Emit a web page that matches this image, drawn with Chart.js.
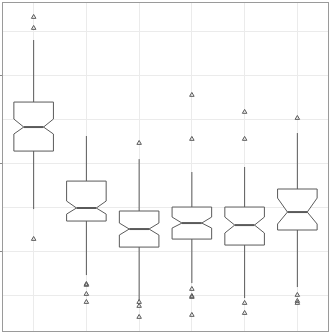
<!DOCTYPE html>
<html>
<head>
<meta charset="utf-8">
<script src="https://cdn.jsdelivr.net/npm/chart.js@4/dist/chart.umd.min.js"></script>
<style>
    body { margin: 0; background: #ffffff; }
    #wrap { width: 331px; height: 333px; }
</style>
</head>
<body>
<div id="wrap"><canvas id="grafico" width="331" height="333"></canvas></div>
<script>
// posições das categorias (sem rótulos visíveis)
const categories = [1, 2, 3, 4, 5, 6];

// estatísticas de cada caixa
const whiskerLow  = [14.77, 7.27, 4.43, 6.36, 4.66, 5.91];
const q1          = [21.36, 13.41, 10.45, 11.36, 10.68, 12.39];
const median      = [24.09, 14.89, 12.50, 13.18, 12.95, 14.43];
const q3          = [26.93, 17.95, 14.55, 15.00, 15.00, 17.05];
const whiskerHigh = [33.98, 23.07, 20.45, 18.98, 19.55, 23.41];
const notchLow    = [23.30, 14.20, 11.82, 12.61, 12.05, 13.07];
const notchHigh   = [25.00, 15.68, 13.18, 13.86, 13.86, 16.02];

// pontos fora
const outliers = [
    [36.59, 35.34, 11.36],
    [6.25, 6.14, 5.11, 4.20],
    [22.27, 4.20, 3.75, 2.50],
    [27.73, 22.73, 5.68, 4.89, 4.77, 2.73],
    [25.80, 22.73, 4.09, 2.95],
    [25.11, 5.00, 4.32, 4.09]
];

const yTicks = [5, 10, 15, 20, 25, 30, 35];
const yMajor = [10, 20, 30];

const larguraCaixa = 0.75;
const corLinha = '#5a5a5a';

const pontosFora = [];
outliers.forEach((lista, i) => {
    lista.forEach(v => pontosFora.push({ x: categories[i], y: v }));
});

// desenha as caixas com entalhe
const caixasPlugin = {
    id: 'caixas',
    beforeDatasetsDraw(chart) {
        const ctx = chart.ctx;
        const x = chart.scales.x;
        const y = chart.scales.y;
        ctx.save();
        ctx.strokeStyle = corLinha;
        categories.forEach((c, i) => {
            const cx = x.getPixelForValue(c);
            const esq = x.getPixelForValue(c - larguraCaixa / 2);
            const dir = x.getPixelForValue(c + larguraCaixa / 2);
            const esqN = x.getPixelForValue(c - larguraCaixa / 4);
            const dirN = x.getPixelForValue(c + larguraCaixa / 4);
            const yQ1 = y.getPixelForValue(q1[i]);
            const yQ3 = y.getPixelForValue(q3[i]);
            const yMed = y.getPixelForValue(median[i]);
            const yNL = y.getPixelForValue(notchLow[i]);
            const yNH = y.getPixelForValue(notchHigh[i]);

            // bigodes
            ctx.lineWidth = 1;
            ctx.beginPath();
            ctx.moveTo(cx, y.getPixelForValue(whiskerHigh[i]));
            ctx.lineTo(cx, yQ3);
            ctx.moveTo(cx, yQ1);
            ctx.lineTo(cx, y.getPixelForValue(whiskerLow[i]));
            ctx.stroke();

            // caixa
            ctx.beginPath();
            ctx.moveTo(esq, yQ3);
            ctx.lineTo(dir, yQ3);
            ctx.lineTo(dir, yNH);
            ctx.lineTo(dirN, yMed);
            ctx.lineTo(dir, yNL);
            ctx.lineTo(dir, yQ1);
            ctx.lineTo(esq, yQ1);
            ctx.lineTo(esq, yNL);
            ctx.lineTo(esqN, yMed);
            ctx.lineTo(esq, yNH);
            ctx.closePath();
            ctx.fillStyle = '#ffffff';
            ctx.fill();
            ctx.stroke();

            // mediana
            ctx.lineWidth = 2;
            ctx.beginPath();
            ctx.moveTo(esqN, yMed);
            ctx.lineTo(dirN, yMed);
            ctx.stroke();
        });
        ctx.restore();
    },
    afterDraw(chart) {
        const a = chart.chartArea;
        const ctx = chart.ctx;
        ctx.save();
        ctx.strokeStyle = '#9a9a9a';
        ctx.lineWidth = 1;
        ctx.strokeRect(a.left + 0.5, a.top + 0.5, a.right - a.left - 1, a.bottom - a.top - 1);
        ctx.restore();
    }
};

new Chart(document.getElementById('grafico'), {
    type: 'scatter',
    data: {
        datasets: [{
            data: pontosFora,
            pointStyle: 'triangle',
            radius: 2.6,
            borderWidth: 1,
            borderColor: corLinha,
            backgroundColor: 'rgba(0,0,0,0)'
        }]
    },
    options: {
        responsive: false,
        animation: false,
        layout: { autoPadding: false, padding: { top: 2, right: 2, bottom: 1, left: 0 } },
        plugins: { legend: { display: false }, tooltip: { enabled: false } },
        scales: {
            x: {
                type: 'linear',
                min: 0.4,
                max: 6.6,
                afterBuildTicks: s => { s.ticks = categories.map(v => ({ value: v })); },
                ticks: { display: false },
                border: { display: false },
                grid: { color: '#ebebeb', lineWidth: 1, drawTicks: false }
            },
            y: {
                type: 'linear',
                min: 0.8,
                max: 38.3,
                afterBuildTicks: s => { s.ticks = yTicks.map(v => ({ value: v })); },
                ticks: { display: false },
                border: { display: false },
                grid: {
                    color: '#ebebeb',
                    lineWidth: 1,
                    drawTicks: true,
                    tickLength: 2,
                    tickColor: c => yMajor.includes(c.tick.value) ? '#8a8a8a' : 'rgba(0,0,0,0)'
                }
            }
        }
    },
    plugins: [caixasPlugin]
});
</script>
</body>
</html>
